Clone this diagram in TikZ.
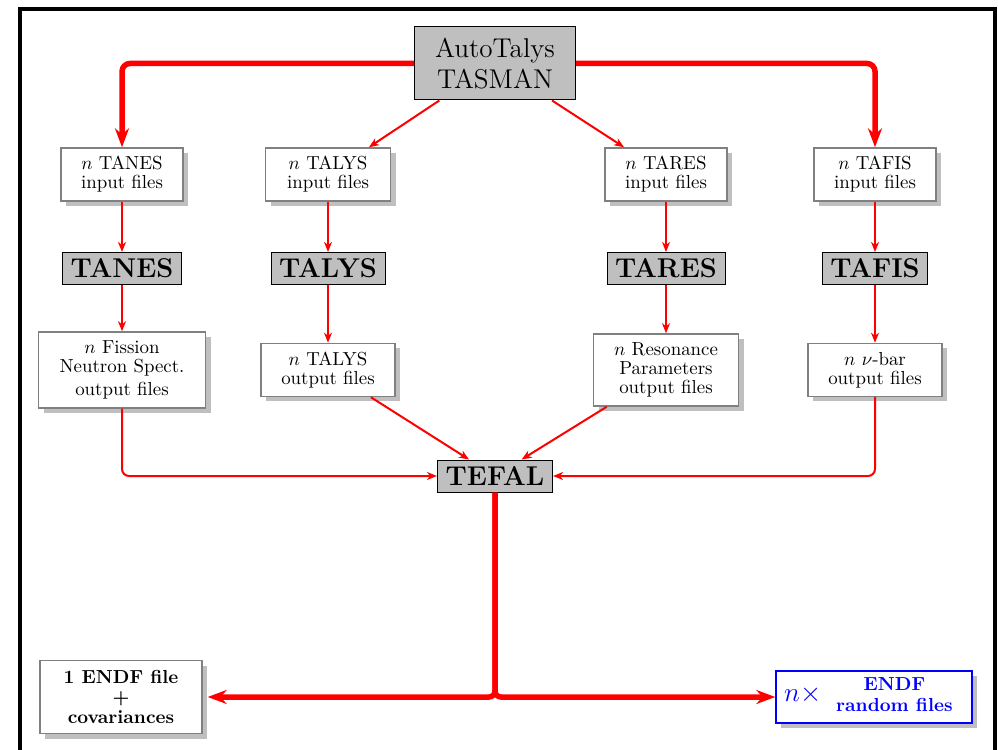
\documentclass[tikz,border=0pt]{standalone}
\usetikzlibrary{arrows.meta,shadows}
\newlength\pxu
\setlength\pxu{0.53pt}
\begin{document}
\begin{tikzpicture}[x=0.53pt, y=-0.53pt,
  filebox/.style={draw=black!50, line width=1.5\pxu, fill=white, align=center, inner sep=0pt,
    font=\fontsize{10}{10}\selectfont,
    drop shadow={shadow xshift=5\pxu, shadow yshift=-5\pxu, fill=black!25, opacity=1}},
  graybox/.style={draw=black, line width=1\pxu, fill=black!25, inner sep=0pt,
    minimum height=32\pxu, font=\fontsize{14.4}{16}\selectfont\bfseries},
  thinarrow/.style={red, line width=2\pxu, rounded corners=7\pxu,
    -{Stealth[length=5.3pt, width=4.2pt, inset=1.6pt]}},
  thickarrow/.style={red, line width=5.5\pxu, rounded corners=8\pxu,
    -{Stealth[length=10pt, width=7.4pt, inset=3.2pt]}}]
\useasboundingbox (0,0) rectangle (998,750);
% frame
\draw[line width=4\pxu] (20,780) -- (20,9) -- (994.5,9) -- (994.5,780);

% top node
\node[graybox, font=\fontsize{14.4}{16}\selectfont, align=center,
  minimum width=161\pxu, minimum height=73\pxu] (auto) at (495,63.5) {AutoTalys\\TASMAN};

% input files
\node[filebox, minimum width=122\pxu, minimum height=53\pxu] (iA) at (122,174.5) {$n$ TANES\\input files};
\node[filebox, minimum width=125\pxu, minimum height=53\pxu] (iB) at (328,174.5) {$n$ TALYS\\input files};
\node[filebox, minimum width=122\pxu, minimum height=53\pxu] (iC) at (666,174.5) {$n$ TARES\\input files};
\node[filebox, minimum width=122\pxu, minimum height=53\pxu] (iD) at (875,174.5) {$n$ TAFIS\\input files};

% codes
\node[graybox, minimum width=119\pxu] (gA) at (122,268.5) {TANES};
\node[graybox, minimum width=114\pxu] (gB) at (328,268.5) {TALYS};
\node[graybox, minimum width=118\pxu] (gC) at (666,268.5) {TARES};
\node[graybox, minimum width=105\pxu] (gD) at (875,268.5) {TAFIS};

% outputs
\node[filebox, minimum width=167\pxu, minimum height=76\pxu] (oA) at (122,370) {$n$ Fission\\Neutron Spect.\\[2.7pt]output files};
\node[filebox, minimum width=134\pxu, minimum height=53\pxu] (oB) at (328,370) {$n$ TALYS\\output files};
\node[filebox, minimum width=145\pxu, minimum height=72\pxu] (oC) at (666,370) {$n$ Resonance\\Parameters\\output files};
\node[filebox, minimum width=134\pxu, minimum height=53\pxu] (oD) at (875,370) {$n$ $\nu$-bar\\output files};

% TEFAL
\node[graybox, minimum width=115\pxu] (tefal) at (495,476) {TEFAL};

% final outputs
\node[filebox, minimum width=162\pxu, minimum height=73\pxu,
  font=\fontsize{10}{10.6}\selectfont\bfseries] (endfa) at (121,697) {1 ENDF file\\+\\covariances};
\node[filebox, draw=blue, text=blue, minimum width=196\pxu, minimum height=52\pxu, inner xsep=7\pxu,
  font=\fontsize{10}{10.7}\selectfont\bfseries] (endfb) at (874,697)
  {{\Large$n\times$}\hspace{8pt}\begin{tabular}{@{}c@{}}ENDF\\random files\end{tabular}\hspace{6pt}};

% connectors
\draw[thickarrow] (auto.west) -| (iA.north);
\draw[thickarrow] (auto.east) -| (iD.north);
\draw[thinarrow] (auto) -- (iB);
\draw[thinarrow] (auto) -- (iC);

\draw[thinarrow] (iA) -- (gA);
\draw[thinarrow] (iB) -- (gB);
\draw[thinarrow] (iC) -- (gC);
\draw[thinarrow] (iD) -- (gD);
\draw[thinarrow] (gA) -- (oA);
\draw[thinarrow] (gB) -- (oB);
\draw[thinarrow] (gC) -- (oC);
\draw[thinarrow] (gD) -- (oD);

\draw[thinarrow] (oA) |- (tefal);
\draw[thinarrow] (oD) |- (tefal);
\draw[thinarrow] (oB) -- (tefal);
\draw[thinarrow] (oC) -- (tefal);

\draw[thickarrow, rounded corners=6\pxu, shorten >=5\pxu] (tefal) |- (endfa);
\draw[thickarrow, rounded corners=6\pxu] (tefal) |- (endfb);
\end{tikzpicture}
\end{document}
